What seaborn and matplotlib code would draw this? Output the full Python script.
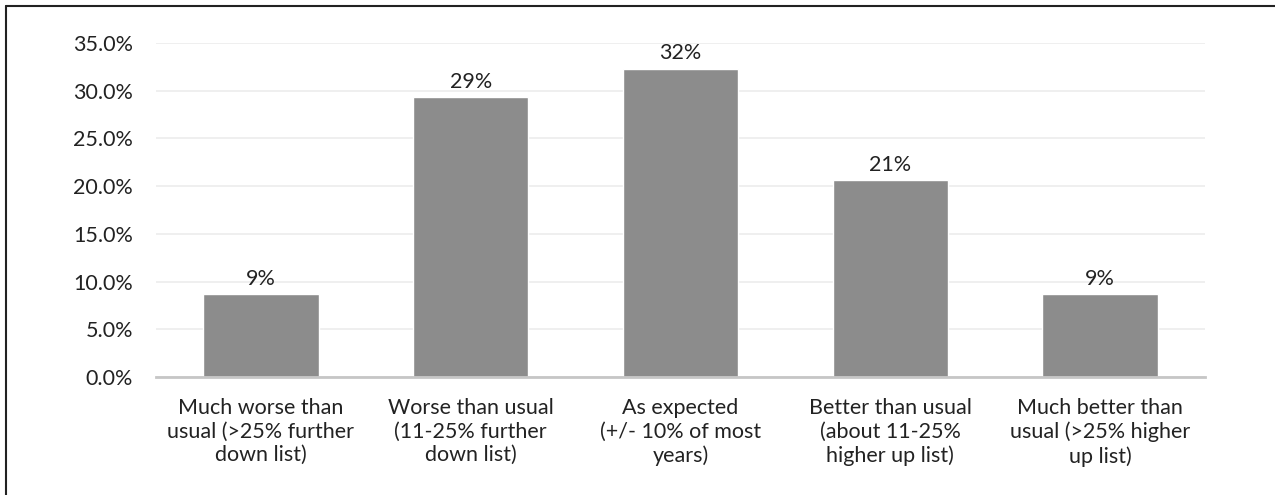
import matplotlib
matplotlib.use("Agg")
import matplotlib.pyplot as plt
from matplotlib.lines import Line2D
from matplotlib.ticker import PercentFormatter
import seaborn as sns
import pandas as pd

categories = [
    "Much worse than\nusual (>25% further\ndown list)",
    "Worse than usual\n(11-25% further\ndown list)",
    "As expected\n(+/- 10% of most\nyears)",
    "Better than usual\n(about 11-25%\nhigher up list)",
    "Much better than\nusual (>25% higher\nup list)",
]
shares = [0.087, 0.293, 0.323, 0.206, 0.087]
y_ticks = [0.0, 0.05, 0.10, 0.15, 0.20, 0.25, 0.30, 0.35]

sns.set_theme(style="white")
plt.rcParams["font.family"] = ["Lato", "DejaVu Sans"]

df = pd.DataFrame({"category": categories, "share": shares})

fig = plt.figure(figsize=(12.75, 4.95), dpi=100)
ax = fig.add_axes([0.1224, 0.2378, 0.8226, 0.6759])

sns.barplot(data=df, x="category", y="share", color="#8c8c8c",
            saturation=1, width=0.55, ax=ax)

ax.set_ylim(0, 0.35)
ax.set_yticks(y_ticks)
ax.yaxis.set_major_formatter(PercentFormatter(xmax=1, decimals=1))
ax.set_xlabel("")
ax.set_ylabel("")

ax.grid(axis="y", color="#ececec", linewidth=1.2)
ax.set_axisbelow(True)
for side in ["left", "right", "top"]:
    ax.spines[side].set_visible(False)
ax.spines["bottom"].set_color("#c6c6c6")
ax.spines["bottom"].set_linewidth(2)

ax.tick_params(axis="y", length=0, pad=16.5, labelsize=15.5, labelcolor="#222222")
ax.tick_params(axis="x", length=0, pad=15, labelsize=15.5, labelcolor="#222222")
for lbl in ax.get_xticklabels():
    lbl.set_linespacing(1.22)

for container in ax.containers:
    ax.bar_label(container, labels=[f"{v * 100:.0f}%" for v in shares],
                 padding=4, fontsize=15.5, color="#222222")

# frame around the chart area
fig.add_artist(Line2D([6 / 1275, 1], [1 - 6 / 495, 1 - 6 / 495],
                      transform=fig.transFigure, color="#222222", linewidth=1.5))
fig.add_artist(Line2D([6 / 1275, 6 / 1275], [0, 1 - 6 / 495],
                      transform=fig.transFigure, color="#222222", linewidth=1.5))

fig.savefig("out.png", dpi=100, facecolor="white")
